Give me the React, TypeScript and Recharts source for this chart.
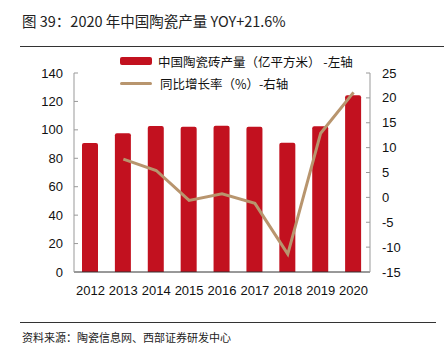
import React from 'react';
import { ComposedChart, Bar, Line, XAxis, YAxis, Legend } from 'recharts';

const years = ['2012', '2013', '2014', '2015', '2016', '2017', '2018', '2019', '2020'];
const output = [90.8, 97.6, 102.8, 102.2, 102.9, 102.2, 90.9, 102.6, 124.3];
const yoy: (number | null)[] = [null, 7.7, 5.4, -0.6, 0.7, -1.2, -11.4, 12.9, 21.1];
const leftTicks = [0, 20, 40, 60, 80, 100, 120, 140];
const rightTicks = [-15, -10, -5, 0, 5, 10, 15, 20, 25];
const boundaryTicks = [1, 2, 3, 4, 5, 6, 7, 8];

const barName = '中国陶瓷砖产量（亿平方米） -左轴';
const lineName = '同比增长率（%）-右轴';
const title = '图 39：2020 年中国陶瓷产量 YOY+21.6%';
const source = '资料来源：陶瓷信息网、西部证券研发中心';

const data = years.map((y, i) => ({ year: y, output: output[i], yoy: yoy[i] }));

const BAR_COLOR = '#C2111F';
const LINE_COLOR = '#B8956E';
const CJK = '"Noto Sans CJK SC", "Liberation Sans", sans-serif';
const NUM = '"Liberation Sans", Arial, sans-serif';

const LegendContent = () => (
  <div style={{ fontFamily: CJK, fontSize: 12.5, color: '#111' }}>
    <div style={{ display: 'flex', alignItems: 'center', height: 20 }}>
      <span style={{ display: 'inline-block', width: 32, height: 8, background: BAR_COLOR, borderRadius: 2, marginRight: 6 }} />
      <span>{barName}</span>
    </div>
    <div style={{ display: 'flex', alignItems: 'center', height: 20, marginTop: 2 }}>
      <span style={{ display: 'inline-block', width: 32, height: 3, background: LINE_COLOR, borderRadius: 2, marginRight: 8 }} />
      <span>{lineName}</span>
    </div>
  </div>
);

export default function App() {
  return (
    <div style={{ position: 'absolute', left: 0, top: 0, width: 444, height: 351, background: '#fff' }}>
      <div style={{ position: 'absolute', left: 22, top: 11, fontFamily: CJK, fontSize: 14.5, color: '#222', whiteSpace: 'nowrap', lineHeight: '20px' }}>
        {title}
      </div>
      <div style={{ position: 'absolute', left: 20, top: 46, width: 424, height: 1, background: '#333' }} />
      <ComposedChart
        width={444}
        height={351}
        data={data}
        margin={{ top: 73, right: 14, bottom: 49, left: 14 }}
      >
        <XAxis
          xAxisId="b"
          type="number"
          domain={[0, 9]}
          ticks={boundaryTicks}
          height={0}
          axisLine={false}
          tick={() => <g />}
          tickLine={{ stroke: '#aaa' }}
          tickSize={-3}
          allowDataOverflow
        />
        <XAxis
          xAxisId="cat"
          dataKey="year"
          axisLine={{ stroke: '#333' }}
          tickLine={false}
          tick={{ fill: '#111', fontSize: 13, fontFamily: NUM }}
          tickMargin={8}
          height={30}
          interval={0}
        />
        <YAxis
          yAxisId="left"
          domain={[0, 140]}
          ticks={leftTicks}
          width={60}
          axisLine={{ stroke: '#999' }}
          tickLine={{ stroke: '#999' }}
          tickSize={-4}
          tickMargin={15}
          tick={{ fill: '#111', fontSize: 13, fontFamily: NUM }}
          interval={0}
        />
        <YAxis
          yAxisId="right"
          orientation="right"
          domain={[-15, 25]}
          ticks={rightTicks}
          width={60}
          axisLine={{ stroke: '#999' }}
          tickLine={{ stroke: '#999' }}
          tickSize={-4}
          tickMargin={16}
          tick={{ fill: '#111', fontSize: 13, fontFamily: NUM }}
          interval={0}
        />
        <Legend
          layout="vertical"
          verticalAlign="middle"
          align="center"
          content={<LegendContent />}
          wrapperStyle={{ position: 'absolute', left: 120, top: 51, width: 300 }}
        />
        <Bar
          xAxisId="cat"
          yAxisId="left"
          dataKey="output"
          name={barName}
          fill={BAR_COLOR}
          barSize={16}
          radius={[2, 2, 0, 0]}
          isAnimationActive={false}
        />
        <Line
          xAxisId="cat"
          yAxisId="right"
          dataKey="yoy"
          name={lineName}
          stroke={LINE_COLOR}
          strokeWidth={3}
          dot={false}
          activeDot={false}
          connectNulls={false}
          isAnimationActive={false}
        />
      </ComposedChart>
      <div style={{ position: 'absolute', left: 20, top: 322, width: 416, height: 1, background: '#333' }} />
      <div style={{ position: 'absolute', left: 22, top: 329, fontFamily: CJK, fontSize: 11, color: '#222', whiteSpace: 'nowrap', lineHeight: '16px' }}>
        {source}
      </div>
    </div>
  );
}
